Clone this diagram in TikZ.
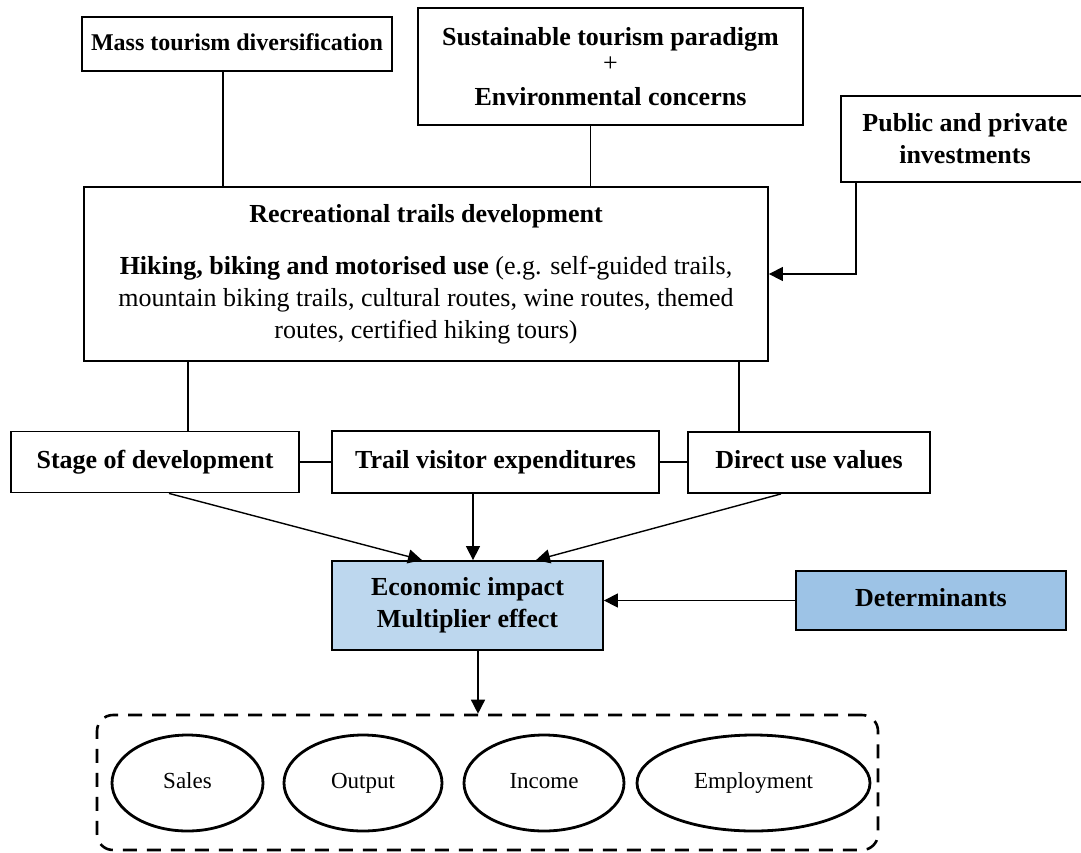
\documentclass[tikz,border=0pt]{standalone}
\usepackage{fontspec}
\setmainfont{Liberation Serif}
\usepackage{tikz}
\usetikzlibrary{arrows.meta,
                shapes.geometric,
                positioning}
\definecolor{blueL}{RGB}{189,215,238}
\definecolor{blueD}{RGB}{157,195,230}

\begin{document}
\begin{tikzpicture}[
x=0.5pt, y=-0.5pt,
   BOX/.style = {draw, line width=0.9pt, align=center, inner sep=2pt,
                 font=\fontsize{13}{16}\selectfont\bfseries},
   ONE/.style = {text height=9pt, text depth=3pt}, % single line
   ELL/.style = {ellipse, draw, line width=1.4pt, inner sep=0pt,
                 text height=8pt, text depth=2.5pt,
                 minimum height=48pt, font=\fontsize{11.5}{14}\selectfont},
    LN/.style = {line width=0.7pt},
    AR/.style = {LN, -{Triangle[length=7pt,width=7pt]}},
    CL/.style = {fill=blueL}, %fill  Color blue Light
    CD/.style = {fill=blueD}  %fill  Color blue Dark
                        ]
\useasboundingbox (0,0) rectangle (1081,852);
% top row
\node (mass) [BOX, ONE, minimum width=155pt, minimum height=27pt,
              font=\fontsize{12}{14}\selectfont\bfseries] at (237,44)
      {Mass tourism diversification};
\node (sust) [BOX, minimum width=192.5pt, minimum height=58.5pt] at (610.5,66.5)
      {Sustainable tourism paradigm\\[-3pt] {\mdseries +}\\[1pt] Environmental concerns};
\node (pub)  [BOX, minimum width=124pt, minimum height=43pt] at (965,139)
      {Public and private\\ investments};
% trails box
\node (rec)  [BOX, minimum width=342pt, minimum height=87pt] at (426,274)
      {Recreational trails development\\[10pt]
       Hiking, biking and motorised use {\mdseries (e.g. self-guided trails,}\\
       {\mdseries mountain biking trails, cultural routes, wine routes, themed}\\
       {\mdseries routes, certified hiking tours)}};
% middle row
\node (stage)  [BOX, ONE, minimum width=144pt, minimum height=30.5pt] at (155,462)
      {Stage of development};
\node (trail)  [BOX, ONE, minimum width=163.5pt, minimum height=31pt] at (495.5,462)
      {Trail visitor expenditures};
\node (direct) [BOX, ONE, minimum width=121pt, minimum height=30.5pt] at (809,462.5)
      {Direct use values};
% impact
\node (econ) [BOX, CL, minimum width=135.5pt, minimum height=44.5pt] at (467.5,605.5)
      {Economic impact\\ Multiplier effect};
\node (det)  [BOX, ONE, CD, minimum width=135pt, minimum height=29.5pt] at (931,600.5)
      {Determinants};
% outcomes
\node (outcomes) [draw, line width=1.3pt, dash pattern=on 7pt off 5pt,
                  rounded corners=8pt, minimum width=390.5pt, minimum height=67.5pt]
      at (487.5,782.5) {};
\node (sales)  [ELL, minimum width=75.5pt]  at (187.5,783) {Sales};
\node (output) [ELL, minimum width=79pt]    at (363,783)   {Output};
\node (income) [ELL, minimum width=80pt]    at (544,783)   {Income};
\node (employ) [ELL, minimum width=116.5pt] at (753.5,783) {Employment};
% connectors
\draw[LN] ([xshift=-7pt]mass.south) -- ([xshift=-7pt]mass.south |- rec.north);
\draw[LN] ([xshift=-10pt]sust.south) -- ([xshift=-10pt]sust.south |- rec.north);
\draw[AR] ([xshift=8pt]pub.south west) |- (rec.east);
\draw[LN] ([xshift=16.5pt]stage.north) -- ([xshift=16.5pt]stage.north |- rec.south);
\draw[LN] ([xshift=-35pt]direct.north) -- ([xshift=-35pt]direct.north |- rec.south);
\draw[LN] (stage.east) -- (stage.east -| trail.west);
\draw[LN] (trail.east) -- (trail.east -| direct.west);
\draw[AR] ([xshift=7pt]stage.south) -- ([xshift=-22.75pt]econ.north);
\draw[AR] ([xshift=2.75pt]econ.north |- trail.south) -- ([xshift=2.75pt]econ.north);
\draw[AR] ([xshift=-14pt]direct.south) -- ([xshift=34.25pt]econ.north);
\draw[AR] (det.west) -- (det.west -| econ.east);
\draw[AR] ([xshift=5.25pt]econ.south) -- ([xshift=5.25pt]econ.south |- outcomes.north);
\end{tikzpicture}
\end{document}
